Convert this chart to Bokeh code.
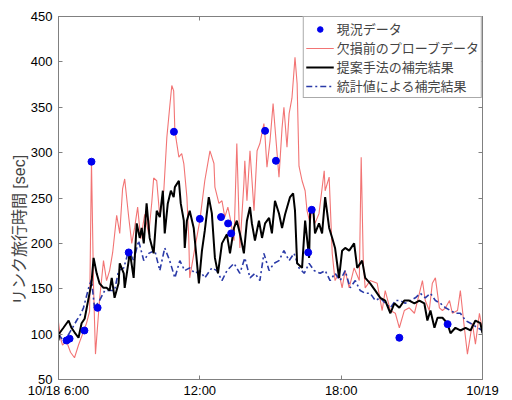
from bokeh.plotting import figure
from bokeh.layouts import column, row
from bokeh.models import (Range1d, FixedTicker, LinearAxis, Legend, LegendItem,
                          Spacer, CustomLabelingPolicy)
from bokeh.embed import file_html
from bokeh.resources import INLINE

# ---- data (time in hours of 10/18, value in sec) ----
obs_t = [6.34, 6.47, 7.10, 7.40, 7.66, 8.98, 10.90, 12.00, 12.90, 13.20, 13.33,
         14.77, 15.23, 16.60, 16.75, 20.47, 22.52]
obs_v = [93, 95, 104, 290, 129, 190, 323, 227, 229, 222, 211,
         324, 291, 190, 237, 96, 111]

red_t = [6.00, 6.09, 6.17, 6.34, 6.51, 6.68, 6.85, 7.02, 7.19, 7.32, 7.40, 7.49, 7.57,
         7.74, 7.91, 8.04, 8.17, 8.30, 8.47, 8.60, 8.72, 8.81, 8.98, 9.11, 9.23, 9.36,
         9.49, 9.66, 9.83, 9.96, 10.04, 10.17, 10.30, 10.47, 10.60, 10.72, 10.81, 10.89,
         10.94, 11.11, 11.23, 11.32, 11.45, 11.53, 11.57, 11.79, 12.00, 12.21, 12.43,
         12.60, 12.64, 12.81, 12.94, 13.06, 13.19, 13.28, 13.45, 13.57, 13.70, 13.87,
         13.91, 14.00, 14.13, 14.30, 14.43, 14.55, 14.72, 14.77, 14.85, 14.98, 15.11,
         15.19, 15.36, 15.49, 15.57, 15.70, 15.79, 15.91, 16.04, 16.13, 16.21, 16.34,
         16.47, 16.55, 16.68, 16.77, 16.89, 17.06, 17.28, 17.32, 17.49, 17.62, 17.74,
         17.91, 18.04, 18.17, 18.34, 18.55, 18.77, 18.85, 18.94, 19.02, 19.23, 19.53,
         19.74, 19.87, 20.09, 20.30, 20.47, 20.68, 20.89, 21.11, 21.32, 21.45, 21.57,
         21.74, 21.87, 22.00, 22.17, 22.30, 22.43, 22.60, 22.72, 22.94, 23.06, 23.23,
         23.36, 23.57, 23.70, 23.87, 24.00]
red_v = [113, 95, 88, 92, 80, 74, 88, 100, 112, 125, 290, 150, 78,
         137, 181, 159, 170, 190, 231, 211, 260, 271, 229, 200, 217, 240,
         205, 232, 210, 245, 272, 269, 229, 258, 317, 350, 374, 368,
         324, 295, 299, 288, 251, 206, 162, 195, 225, 269, 302,
         288, 262, 244, 247, 229, 240, 229, 203, 310, 195, 266,
         291, 247, 302, 236, 302, 310, 332, 317, 284, 313, 354,
         328, 273, 327, 350, 306, 343, 360, 405, 376, 285, 269,
         258, 236, 222, 240, 222, 233, 280, 258, 273, 189, 159,
         167, 151, 170, 151, 173, 159, 295, 178, 151, 159, 156,
         126, 148, 126, 123, 107, 126, 129, 123, 145, 159, 137,
         126, 156, 162, 129, 126, 129, 137, 123, 126, 148, 107,
         78, 112, 89, 123, 104]

blk_t = [6.00, 6.04, 6.21, 6.43, 6.55, 6.68, 6.85, 6.98, 7.11, 7.28, 7.40, 7.49, 7.62,
         7.74, 7.91, 8.04, 8.17, 8.26, 8.38, 8.55, 8.60, 8.77, 8.81, 8.98, 9.02, 9.19,
         9.32, 9.45, 9.53, 9.62, 9.74, 9.87, 10.04, 10.17, 10.30, 10.43, 10.51, 10.64,
         10.77, 10.89, 10.94, 11.11, 11.19, 11.32, 11.36, 11.45, 11.57, 11.74, 11.87,
         11.96, 12.09, 12.21, 12.38, 12.51, 12.64, 12.77, 12.94, 13.15, 13.28, 13.45,
         13.57, 13.70, 13.87, 14.00, 14.13, 14.21, 14.34, 14.51, 14.64, 14.77, 14.94,
         15.06, 15.19, 15.36, 15.49, 15.62, 15.83, 15.96, 16.04, 16.13, 16.34, 16.47,
         16.64, 16.68, 16.81, 16.89, 17.06, 17.19, 17.32, 17.49, 17.62, 17.74, 17.91,
         18.04, 18.17, 18.34, 18.55, 18.68, 18.89, 19.02, 19.23, 19.45, 19.66, 19.87,
         20.09, 20.26, 20.47, 20.68, 20.89, 21.11, 21.32, 21.53, 21.66, 21.79, 21.96,
         22.09, 22.30, 22.51, 22.64, 22.85, 23.06, 23.28, 23.49, 23.70, 23.91, 24.00]
blk_v = [93, 101, 107, 115, 107, 102, 96, 112, 117, 140, 156, 184, 167,
         156, 151, 151, 148, 162, 140, 156, 178, 167, 151, 181, 192, 162,
         222, 206, 217, 200, 244, 206, 189, 236, 229, 258, 211, 244,
         258, 251, 262, 269, 244, 225, 195, 225, 236, 217, 181,
         156, 192, 214, 251, 233, 184, 167, 200, 210, 189, 217,
         225, 211, 189, 225, 240, 222, 203, 225, 206, 222, 228,
         211, 247, 233, 217, 232, 251, 255, 236, 178, 173, 225,
         184, 233, 240, 211, 222, 211, 251, 217, 206, 195, 162,
         192, 195, 192, 200, 173, 181, 162, 156, 148, 140, 137,
         123, 134, 129, 137, 137, 134, 137, 134, 115, 126, 107,
         118, 118, 112, 101, 107, 104, 107, 104, 115, 112, 101]

sta_t = [6.00, 6.17, 6.34, 6.55, 6.77, 6.94, 7.06, 7.28, 7.40, 7.53, 7.74, 7.96, 8.17,
         8.38, 8.55, 8.77, 8.98, 9.19, 9.40, 9.62, 9.83, 10.09, 10.30, 10.51, 10.72,
         10.94, 11.15, 11.36, 11.57, 11.79, 12.00, 12.21, 12.51, 12.72, 12.94, 13.15,
         13.45, 13.70, 13.91, 14.13, 14.34, 14.55, 14.72, 14.94, 15.15, 15.36, 15.57,
         15.79, 16.00, 16.21, 16.43, 16.64, 16.85, 17.11, 17.32, 17.53, 17.74, 17.96,
         18.17, 18.38, 18.60, 18.81, 19.02, 19.23, 19.45, 19.66, 19.87, 20.09, 20.30,
         20.51, 20.72, 20.94, 21.15, 21.36, 21.57, 21.79, 22.00, 22.21, 22.43, 22.64,
         22.85, 23.06, 23.28, 23.49, 23.79, 24.00]
sta_v = [100, 94, 96, 105, 115, 122, 129, 151, 160, 129, 137, 148, 148,
         148, 170, 173, 192, 181, 203, 181, 189, 192, 170, 195, 181,
         162, 181, 170, 173, 167, 170, 162, 173, 170, 159, 170,
         178, 167, 184, 162, 167, 159, 189, 170, 178, 181, 192,
         181, 189, 173, 167, 178, 170, 167, 170, 159, 167, 159,
         170, 151, 159, 148, 145, 145, 137, 140, 134, 129, 137,
         137, 134, 137, 140, 145, 140, 145, 137, 134, 129, 126,
         123, 123, 115, 112, 107, 104]

x_ticks = [6, 12, 18, 24]
x_tick_labels = ["10/18 6:00", "12:00", "18:00", "10/19"]
y_ticks = [50, 100, 150, 200, 250, 300, 350, 400, 450]

legend_labels = ["現況データ", "欠損前のプローブデータ", "提案手法の補完結果", "統計値による補完結果"]
y_label = "リンク旅行時間 [sec]"

# ---- figure ----
AX = "#808080"
JP = "Liberation Sans, Noto Sans CJK JP"
p = figure(frame_width=424, frame_height=363, output_backend="svg", toolbar_location=None,
           x_range=Range1d(6, 24), y_range=Range1d(50, 450),
           min_border_left=0, min_border_top=0, min_border_right=18, min_border_bottom=0,
           background_fill_color="white", border_fill_color="white")
p.xgrid.visible = False
p.ygrid.visible = False
p.outline_line_color = AX

def style(ax, labels=True):
    ax.axis_line_color = AX
    ax.major_tick_line_color = AX
    ax.minor_tick_line_color = None
    ax.major_tick_in = 4
    ax.major_tick_out = 0
    if labels:
        ax.major_label_text_font = "Liberation Sans"
        ax.major_label_text_font_size = "13px"
        ax.major_label_text_color = "black"
    else:
        ax.major_label_standoff = 0
        ax.major_label_policy = CustomLabelingPolicy(code="return new Set()")

p.xaxis.ticker = FixedTicker(ticks=x_ticks)
p.xaxis.major_label_overrides = dict(zip(x_ticks, x_tick_labels))
p.yaxis.ticker = FixedTicker(ticks=y_ticks)
style(p.xaxis[0])
style(p.yaxis[0])
p.xaxis.major_label_standoff = 3
p.yaxis.major_label_standoff = 6
# trailing ideographic spaces shift the visible label toward the bottom as in the original
p.yaxis.axis_label = y_label + "\u3000" * 4
p.yaxis.axis_label_text_font = JP
p.yaxis.axis_label_text_font_size = "16px"
p.yaxis.axis_label_text_font_style = "normal"
p.yaxis.axis_label_standoff = 0

top = LinearAxis(ticker=FixedTicker(ticks=x_ticks))
style(top, labels=False)
p.add_layout(top, "above")
right = LinearAxis(ticker=FixedTicker(ticks=y_ticks))
style(right, labels=False)
p.add_layout(right, "right")

r_red = p.line(red_t, red_v, line_color="#f27474", line_width=1.1)
r_sta = p.line(sta_t, sta_v, line_color="#2a3aa8", line_width=1.6, line_dash="6 3 2 3")
r_blk = p.line(blk_t, blk_v, line_color="black", line_width=2)
r_obs = p.scatter(obs_t, obs_v, size=7, marker="circle", fill_color="#0000ee", line_color="#0000ee")

legend = Legend(items=[LegendItem(label=legend_labels[0], renderers=[r_obs]),
                       LegendItem(label=legend_labels[1], renderers=[r_red]),
                       LegendItem(label=legend_labels[2], renderers=[r_blk]),
                       LegendItem(label=legend_labels[3], renderers=[r_sta])],
                location="top_right", margin=0, padding=2, spacing=0,
                label_text_font=JP, label_text_font_size="13px",
                label_height=14, glyph_height=14, glyph_width=28, label_standoff=3,
                border_line_color="#555555", border_line_width=1,
                background_fill_color="white", background_fill_alpha=1.0)
p.add_layout(legend)

layout = row(Spacer(width=7), column(Spacer(height=5), p, spacing=0), spacing=0)
open("out.html", "w").write(file_html(layout, INLINE))
